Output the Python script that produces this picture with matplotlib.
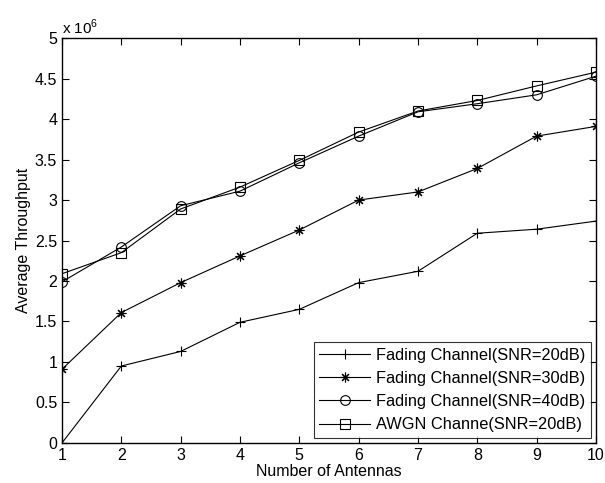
import numpy as np
import matplotlib
matplotlib.use("Agg")
import matplotlib.pyplot as plt
from matplotlib.ticker import FuncFormatter

plt.rcParams['font.family'] = ['Liberation Sans', 'DejaVu Sans']
plt.rcParams['mathtext.fontset'] = 'custom'
plt.rcParams['mathtext.rm'] = 'Liberation Sans'

antennas = [1, 2, 3, 4, 5, 6, 7, 8, 9, 10]
fading_20 = [0.0, 0.95, 1.13, 1.49, 1.65, 1.98, 2.12, 2.59, 2.64, 2.74]
fading_30 = [0.91, 1.61, 1.98, 2.31, 2.63, 3.00, 3.10, 3.39, 3.79, 3.91]
fading_40 = [1.99, 2.42, 2.93, 3.11, 3.46, 3.79, 4.09, 4.19, 4.30, 4.53]
awgn_20 = [2.09, 2.35, 2.89, 3.16, 3.49, 3.84, 4.10, 4.23, 4.41, 4.58]
scale = 1e6

fig = plt.figure(figsize=(6.05, 4.83), dpi=100)
ax = fig.add_axes([0.1025, 0.083, 0.8825, 0.838])

kw = dict(color='black', linewidth=0.8, markersize=7, markerfacecolor='none', markeredgewidth=0.8)
ax.plot(antennas, np.array(fading_20) * scale, marker='+', label='Fading Channel(SNR=20dB)', **kw)
ax.plot(antennas, np.array(fading_30) * scale, marker=(8, 2, 0), label='Fading Channel(SNR=30dB)', **kw)
ax.plot(antennas, np.array(fading_40) * scale, marker='o', label='Fading Channel(SNR=40dB)', **kw)
ax.plot(antennas, np.array(awgn_20) * scale, marker='s', label='AWGN Channe(SNR=20dB)', **kw)

ax.set_xlim(1, 10)
ax.set_ylim(0, 5e6)
ax.set_xticks(antennas)
ax.set_yticks(np.arange(0, 5.01, 0.5) * scale)
ax.yaxis.set_major_formatter(FuncFormatter(lambda v, p: '%g' % (v / scale)))
ax.tick_params(direction='in', top=True, right=True, labelsize=11.5, length=5, width=0.8)
for s in ax.spines.values():
    s.set_linewidth(1.0)

ax.text(0.0, 1.004, r'x 10$^{6}$', transform=ax.transAxes, fontsize=11, ha='left', va='bottom')
ax.set_xlabel('Number of Antennas', fontsize=11.5, labelpad=1)
ax.set_ylabel('Average Throughput', fontsize=11.5, labelpad=3)

leg = ax.legend(loc='lower right', fontsize=11.8, handlelength=3.1, frameon=True, fancybox=False,
                edgecolor='black', borderaxespad=0.3, labelspacing=0.5, borderpad=0.35, handletextpad=0.35)
leg.get_frame().set_linewidth(0.8)

fig.savefig('out.png', dpi=100)
